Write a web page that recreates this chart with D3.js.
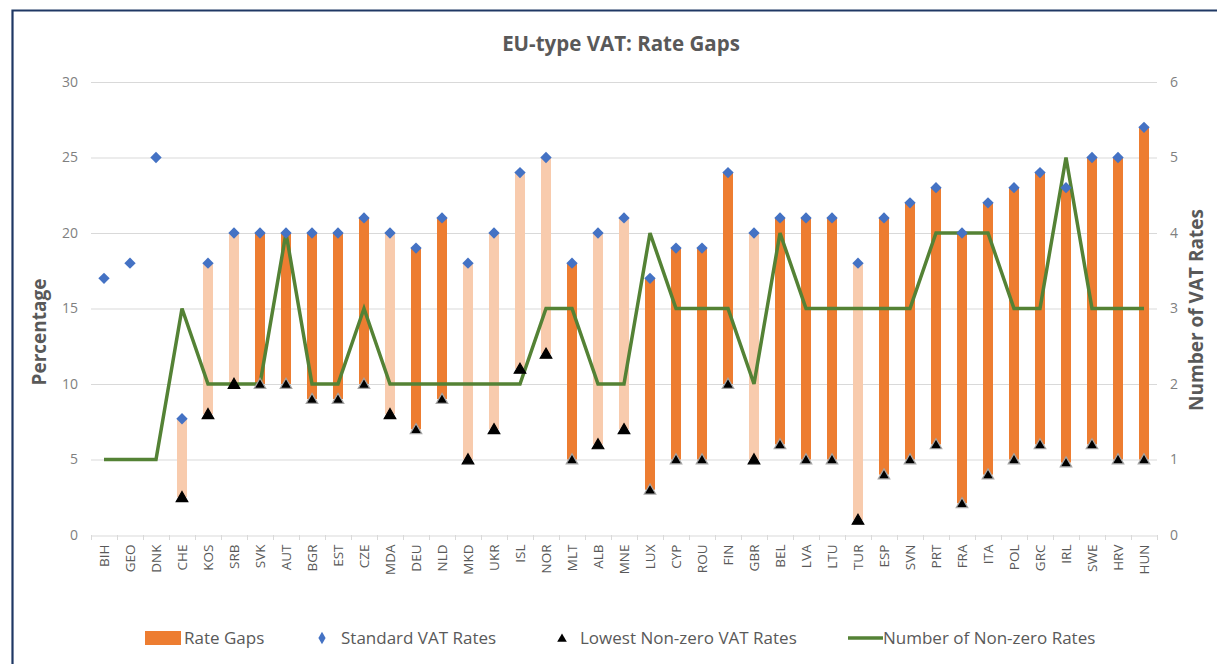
<!DOCTYPE html>
<html>
<head>
<meta charset="utf-8">
<script src="https://cdn.jsdelivr.net/npm/d3@7"></script>
<style>
  body { margin: 0; background: #fff; }
  svg { display: block; font-family: "Open Sans", "Noto Sans", sans-serif; }
</style>
</head>
<body>
<div id="chart"></div>
<script>
const countries = ["BIH","GEO","DNK","CHE","KOS","SRB","SVK","AUT","BGR","EST","CZE","MDA","DEU","NLD","MKD","UKR","ISL","NOR","MLT","ALB","MNE","LUX","CYP","ROU","FIN","GBR","BEL","LVA","LTU","TUR","ESP","SVN","PRT","FRA","ITA","POL","GRC","IRL","SWE","HRV","HUN"];
const standardRates = [17,18,25,7.7,18,20,20,20,20,20,21,20,19,21,18,20,24,25,18,20,21,17,19,19,24,20,21,21,21,18,21,22,23,20,22,23,24,23,25,25,27];
const lowestRates = [null,null,null,2.5,8,10,10,10,9,9,10,8,7,9,5,7,11,12,5,6,7,3,5,5,10,5,6,5,5,1,4,5,6,2.1,4,5,6,4.8,6,5,5];
const numRates = [1,1,1,3,2,2,2,4,2,2,3,2,2,2,2,2,2,3,3,2,2,4,3,3,3,2,4,3,3,3,3,3,4,4,4,3,3,5,3,3,3];
// true = EU member (dark bar), false = non-EU (light bar)
const euMember = [false,false,false,false,false,false,true,true,true,true,true,false,true,true,false,false,false,false,true,false,false,true,true,true,true,false,true,true,true,false,true,true,true,true,true,true,true,true,true,true,true];
const leftTicks = [0,5,10,15,20,25,30];
const rightTicks = [0,1,2,3,4,5,6];

const width = 1217;
const height = 664;
const margin = { top: 82, right: 60, bottom: 129, left: 91 };
const grey = "#595959";

const data = countries.map((c, i) => ({
  country: c,
  standard: standardRates[i],
  lowest: lowestRates[i],
  count: numRates[i],
  eu: euMember[i]
}));

const svg = d3.select("#chart")
  .append("svg")
  .attr("width", width)
  .attr("height", height);

// outer frame
svg.append("path")
  .attr("d", `M12.5,${height} L12.5,10.5 L${width},10.5`)
  .attr("fill", "none")
  .attr("stroke", "#1f3864")
  .attr("stroke-width", 2.2);

const x = d3.scaleBand()
  .domain(countries)
  .range([margin.left, width - margin.right])
  .padding(0);

const y = d3.scaleLinear()
  .domain([0, 30])
  .range([height - margin.bottom, margin.top]);

const y2 = d3.scaleLinear()
  .domain([0, 6])
  .range([height - margin.bottom, margin.top]);

const cx = d => x(d.country) + x.bandwidth() / 2;

// gridlines
svg.append("g")
  .selectAll("line")
  .data(leftTicks.slice(1))
  .join("line")
  .attr("x1", margin.left)
  .attr("x2", width - margin.right)
  .attr("y1", d => y(d) + 0.5)
  .attr("y2", d => y(d) + 0.5)
  .attr("stroke", "#d9d9d9");

// left axis labels
svg.append("g")
  .selectAll("text")
  .data(leftTicks)
  .join("text")
  .attr("x", 78)
  .attr("y", d => y(d))
  .attr("dy", "0.35em")
  .attr("text-anchor", "end")
  .attr("font-size", 14)
  .attr("fill", "#7f7f7f")
  .text(d => d);

// right axis labels
svg.append("g")
  .selectAll("text")
  .data(rightTicks)
  .join("text")
  .attr("x", 1170)
  .attr("y", d => y2(d))
  .attr("dy", "0.35em")
  .attr("text-anchor", "start")
  .attr("font-size", 14)
  .attr("fill", "#7f7f7f")
  .text(d => d);

// x axis
const xAxis = svg.append("g")
  .attr("transform", `translate(0,${y(0) + 0.5})`)
  .call(d3.axisBottom(x).tickSize(0).tickPadding(8));
xAxis.select(".domain").attr("stroke", "#d9d9d9");
xAxis.selectAll("text")
  .attr("transform", "rotate(-90)")
  .attr("text-anchor", "end")
  .attr("x", -9)
  .attr("y", 0)
  .attr("dy", "0.35em")
  .attr("font-size", 13.5)
  .attr("font-family", "Open Sans, sans-serif")
  .attr("fill", grey);
svg.append("g")
  .selectAll("line")
  .data(d3.range(countries.length + 1))
  .join("line")
  .attr("x1", i => Math.round(margin.left + i * x.step()) + 0.5)
  .attr("x2", i => Math.round(margin.left + i * x.step()) + 0.5)
  .attr("y1", y(0))
  .attr("y2", y(0) + 5)
  .attr("stroke", "#d9d9d9");

// rate gap bars
const barW = 10;
svg.append("g")
  .selectAll("rect")
  .data(data.filter(d => d.lowest != null))
  .join("rect")
  .attr("x", d => cx(d) - barW / 2)
  .attr("y", d => y(d.standard))
  .attr("width", barW)
  .attr("height", d => y(d.lowest) - y(d.standard))
  .attr("fill", d => d.eu ? "#ed7d31" : "#f8cbad");

// number of rates line
svg.append("path")
  .datum(data)
  .attr("fill", "none")
  .attr("stroke", "#548235")
  .attr("stroke-width", 3.5)
  .attr("stroke-linejoin", "miter")
  .attr("d", d3.line().x(cx).y(d => y2(d.count)));

// lowest rate triangles
const tri = d3.symbol().type(d3.symbolTriangle).size(58);
svg.append("g")
  .selectAll("path")
  .data(data.filter(d => d.lowest != null))
  .join("path")
  .attr("transform", d => `translate(${cx(d)},${y(d.lowest) + 1})`)
  .attr("d", tri)
  .attr("fill", "#000")
  .attr("stroke", d => d.eu ? "#a6a6a6" : "#000")
  .attr("stroke-width", 1.2);

// standard rate diamonds (rotated squares)
const side = 8;
svg.append("g")
  .selectAll("rect")
  .data(data)
  .join("rect")
  .attr("x", -side / 2)
  .attr("y", -side / 2)
  .attr("width", side)
  .attr("height", side)
  .attr("transform", d => `translate(${cx(d)},${y(d.standard)}) rotate(45)`)
  .attr("fill", "#4472c4");

// title
svg.append("text")
  .attr("x", 621)
  .attr("y", 51)
  .attr("text-anchor", "middle")
  .attr("font-size", 20.5)
  .attr("font-weight", "bold")
  .attr("fill", grey)
  .text("EU-type VAT: Rate Gaps");

// axis titles
svg.append("text")
  .attr("transform", "translate(46,332) rotate(-90)")
  .attr("text-anchor", "middle")
  .attr("font-size", 19)
  .attr("font-weight", "bold")
  .attr("fill", grey)
  .text("Percentage");

svg.append("text")
  .attr("transform", "translate(1203,310) rotate(-90)")
  .attr("text-anchor", "middle")
  .attr("font-size", 19)
  .attr("font-weight", "bold")
  .attr("fill", grey)
  .text("Number of VAT Rates");

// legend
const legY = 638;
const legend = svg.append("g").attr("font-size", 17).attr("fill", grey);
legend.append("rect").attr("x", 145).attr("y", legY - 7).attr("width", 36).attr("height", 14).attr("fill", "#ed7d31");
legend.append("text").attr("x", 184).attr("y", legY).attr("dy", "0.35em").text("Rate Gaps");
legend.append("path").attr("transform", `translate(322,${legY})`).attr("d", d3.symbol().type(d3.symbolDiamond).size(45)).attr("fill", "#4472c4");
legend.append("text").attr("x", 341).attr("y", legY).attr("dy", "0.35em").text("Standard VAT Rates");
legend.append("path").attr("transform", `translate(562,${legY + 1})`).attr("d", d3.symbol().type(d3.symbolTriangle).size(40)).attr("fill", "#000");
legend.append("text").attr("x", 580).attr("y", legY).attr("dy", "0.35em").text("Lowest Non-zero VAT Rates");
legend.append("line").attr("x1", 848).attr("x2", 883).attr("y1", legY).attr("y2", legY).attr("stroke", "#548235").attr("stroke-width", 3.5);
legend.append("text").attr("x", 883).attr("y", legY).attr("dy", "0.35em").text("Number of Non-zero Rates");
</script>
</body>
</html>
